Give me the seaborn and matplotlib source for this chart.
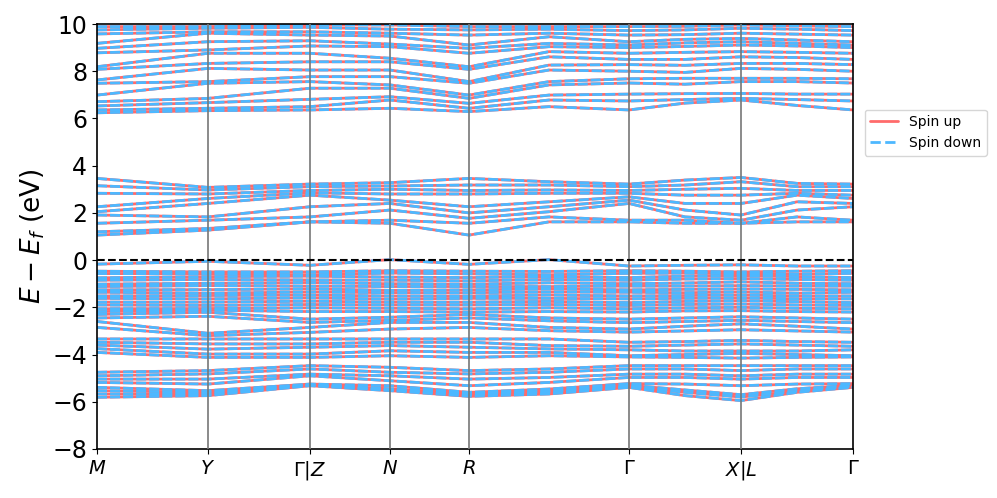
import numpy as np
import pandas as pd
import matplotlib
matplotlib.use("Agg")
import matplotlib.pyplot as plt
import seaborn as sns
from matplotlib.lines import Line2D

# k-path: distance of each sampled k-point along the path
k_path = [0.0, 1.11, 2.13, 2.93, 3.72, 4.52, 5.32, 5.88, 6.44, 7.00, 7.56]
# high-symmetry points
tick_pos = [0.0, 1.11, 2.13, 2.93, 3.72, 5.32, 6.44, 7.56]
tick_labels = [r'$M$', r'$Y$', r'$\Gamma|Z$', r'$N$', r'$R$', r'$\Gamma$', r'$X|L$', r'$\Gamma$']

# energies (eV) read at each k_path point
cond_high = [
    [9.89, 9.89, 9.96, 9.96, 9.89, 9.89, 9.89, 9.90, 9.96, 9.92, 9.89],
    [9.75, 9.82, 9.86, 9.78, 9.75, 9.78, 9.72, 9.75, 9.82, 9.78, 9.72],
    [9.58, 9.67, 9.67, 9.61, 9.53, 9.61, 9.53, 9.55, 9.61, 9.57, 9.53],
    [9.18, 9.61, 9.53, 9.49, 9.11, 9.46, 9.25, 9.35, 9.39, 9.32, 9.25],
    [8.97, 9.25, 9.29, 9.15, 8.97, 9.18, 9.11, 9.20, 9.25, 9.18, 9.11],
    [8.78, 8.90, 9.07, 9.04, 8.76, 9.04, 9.00, 9.05, 9.11, 9.07, 9.00],
    [8.19, 8.76, 8.76, 8.55, 8.19, 8.83, 8.76, 8.80, 8.83, 8.80, 8.76],
    [8.08, 8.33, 8.40, 8.40, 8.08, 8.61, 8.50, 8.50, 8.61, 8.58, 8.50],
    [7.63, 8.12, 8.05, 8.05, 7.56, 8.26, 8.28, 8.25, 8.33, 8.33, 8.28],
    [7.49, 7.56, 7.77, 7.77, 7.49, 8.05, 8.00, 7.95, 8.12, 8.08, 8.00],
    [6.99, 7.49, 7.56, 7.42, 6.99, 7.56, 7.68, 7.70, 7.70, 7.70, 7.68],
    [6.71, 6.85, 7.28, 7.28, 6.85, 7.42, 7.50, 7.45, 7.56, 7.56, 7.50],
    [6.53, 6.67, 6.81, 6.92, 6.64, 6.99, 7.03, 7.05, 7.06, 7.03, 7.03],
    [6.36, 6.43, 6.50, 6.78, 6.43, 6.78, 6.74, 6.80, 6.85, 6.80, 6.74],
    [6.24, 6.33, 6.36, 6.43, 6.29, 6.50, 6.36, 6.65, 6.78, 6.55, 6.36],
]

cond_low = [
    [3.46, 3.08, 3.22, 3.28, 3.46, 3.32, 3.22, 3.39, 3.50, 3.25, 3.22],
    [3.15, 2.97, 3.11, 3.14, 3.18, 3.18, 3.11, 3.18, 3.32, 3.11, 3.11],
    [2.83, 2.80, 2.95, 3.00, 2.95, 2.97, 2.95, 3.00, 3.04, 2.95, 2.95],
    [2.26, 2.61, 2.85, 2.80, 2.80, 2.83, 2.83, 2.75, 2.75, 2.83, 2.75],
    [2.05, 2.40, 2.75, 2.54, 2.26, 2.47, 2.68, 2.40, 2.40, 2.75, 2.61],
    [1.91, 1.83, 2.26, 2.40, 2.00, 2.26, 2.54, 2.12, 1.91, 2.47, 2.40],
    [1.56, 1.69, 1.83, 2.12, 1.77, 2.05, 2.40, 1.83, 1.69, 2.12, 2.26],
    [1.20, 1.34, 1.62, 1.69, 1.56, 1.83, 1.69, 1.69, 1.56, 1.83, 1.69],
    [1.06, 1.27, 1.62, 1.56, 1.06, 1.62, 1.62, 1.56, 1.56, 1.62, 1.62],
]

val_top = [
    [-0.17, -0.05, -0.22, 0.02, -0.18, 0.02, -0.25, -0.22, -0.20, -0.25, -0.25],
    [-0.47, -0.50, -0.50, -0.45, -0.47, -0.48, -0.45, -0.47, -0.50, -0.47, -0.45],
    [-0.57, -0.58, -0.62, -0.55, -0.58, -0.62, -0.56, -0.55, -0.58, -0.60, -0.56],
    [-0.75, -0.70, -0.68, -0.72, -0.74, -0.70, -0.74, -0.68, -0.66, -0.70, -0.74],
    [-0.85, -0.82, -0.84, -0.85, -0.88, -0.82, -0.85, -0.80, -0.78, -0.82, -0.85],
    [-1.02, -0.98, -0.95, -1.00, -1.02, -0.96, -1.00, -0.97, -0.92, -0.98, -1.00],
    [-1.12, -1.08, -1.10, -1.12, -1.12, -1.12, -1.10, -1.10, -1.08, -1.10, -1.10],
    [-1.26, -1.25, -1.22, -1.28, -1.26, -1.22, -1.26, -1.24, -1.22, -1.24, -1.26],
    [-1.36, -1.40, -1.35, -1.38, -1.38, -1.35, -1.36, -1.38, -1.35, -1.40, -1.36],
    [-1.52, -1.50, -1.48, -1.52, -1.52, -1.48, -1.52, -1.50, -1.48, -1.52, -1.52],
    [-1.62, -1.64, -1.60, -1.65, -1.62, -1.62, -1.64, -1.62, -1.60, -1.64, -1.64],
    [-1.78, -1.78, -1.74, -1.78, -1.78, -1.75, -1.80, -1.75, -1.72, -1.76, -1.80],
    [-1.90, -1.92, -1.88, -1.90, -1.90, -1.88, -1.92, -1.88, -1.86, -1.90, -1.92],
    [-2.06, -2.05, -2.02, -2.04, -2.06, -2.02, -2.06, -2.02, -2.00, -2.04, -2.06],
    [-2.18, -2.12, -2.18, -2.18, -2.20, -2.18, -2.20, -2.15, -2.14, -2.18, -2.20],
]

val_mid = [
    [-2.30, -2.21, -2.50, -2.42, -2.30, -2.45, -2.50, -2.45, -2.40, -2.45, -2.50],
    [-2.45, -2.38, -2.64, -2.55, -2.45, -2.57, -2.65, -2.60, -2.55, -2.60, -2.65],
    [-2.60, -3.10, -2.85, -2.64, -2.64, -2.85, -2.92, -2.80, -2.70, -2.80, -2.92],
    [-2.85, -3.20, -3.06, -2.92, -2.85, -2.99, -3.05, -3.00, -2.95, -3.00, -3.05],
    [-3.34, -3.34, -3.34, -3.34, -3.34, -3.34, -3.48, -3.45, -3.40, -3.45, -3.48],
    [-3.48, -3.55, -3.55, -3.48, -3.48, -3.62, -3.65, -3.60, -3.55, -3.60, -3.65],
    [-3.60, -3.77, -3.69, -3.62, -3.69, -3.76, -3.80, -3.85, -3.85, -3.85, -3.80],
    [-3.75, -3.98, -3.98, -3.84, -3.91, -3.91, -4.05, -4.00, -3.95, -4.00, -4.05],
    [-3.91, -4.12, -4.12, -4.05, -4.12, -4.05, -4.10, -4.12, -4.15, -4.12, -4.10],
]

val_low = [
    [-4.75, -4.68, -4.47, -4.54, -4.68, -4.61, -4.47, -4.47, -4.47, -4.47, -4.47],
    [-4.90, -4.82, -4.61, -4.75, -4.82, -4.75, -4.61, -4.61, -4.68, -4.61, -4.61],
    [-5.04, -5.04, -4.83, -4.90, -5.04, -4.97, -4.83, -4.83, -4.90, -4.83, -4.83],
    [-5.18, -5.25, -4.90, -5.11, -5.32, -5.18, -4.97, -4.97, -5.04, -4.97, -4.97],
    [-5.39, -5.53, -5.25, -5.32, -5.60, -5.46, -5.23, -5.25, -5.32, -5.25, -5.23],
    [-5.53, -5.60, -5.28, -5.45, -5.65, -5.55, -5.30, -5.50, -5.70, -5.45, -5.30],
    [-5.67, -5.68, -5.30, -5.50, -5.70, -5.60, -5.35, -5.60, -5.80, -5.55, -5.35],
    [-5.81, -5.74, -5.32, -5.53, -5.77, -5.67, -5.39, -5.74, -5.95, -5.60, -5.39],
]

# spin up and spin down bands coincide in the picture
spin_up = cond_high + cond_low + val_top + val_mid + val_low
spin_down = spin_up

rows = []
for spin, bands in [('up', spin_up), ('down', spin_down)]:
    for i, band in enumerate(bands):
        for k, e in zip(k_path, band):
            rows.append({'k': k, 'E': e, 'band': i, 'spin': spin})
df = pd.DataFrame(rows)

sns.set_style("ticks")
plt.rcParams.update({'xtick.color': 'black', 'ytick.color': 'black',
                     'axes.labelcolor': 'black', 'text.color': 'black'})
fig = plt.figure(figsize=(9.97, 4.98), dpi=100)
ax = fig.add_axes([0.0973, 0.0984, 0.7583, 0.8534])

up_color = '#ff6b6b'
down_color = '#4db8ff'
down_dash = (0, (3.6, 1.1))

sns.lineplot(data=df[df.spin == 'up'], x='k', y='E', units='band', estimator=None,
             sort=False, color=up_color, lw=2.0, ax=ax, legend=False)
sns.lineplot(data=df[df.spin == 'down'], x='k', y='E', units='band', estimator=None,
             sort=False, color=down_color, lw=2.0, linestyle=down_dash, ax=ax, legend=False)

for x in tick_pos[1:-1]:
    ax.axvline(x, color='#777777', lw=1.2, zorder=5)
ax.axhline(0, color='black', lw=1.5, linestyle='--', zorder=6)

ax.set_xlim(tick_pos[0], tick_pos[-1])
ax.set_ylim(-8, 10)
ax.set_xticks(tick_pos)
ax.set_xticklabels(tick_labels, fontsize=14)
ax.set_yticks(range(-8, 11, 2))
ax.tick_params(axis='y', labelsize=17)
ax.set_xlabel('')
ax.set_ylabel(r'$E - E_f$ (eV)', fontsize=19)
for s in ax.spines.values():
    s.set_color('black')
    s.set_linewidth(1.2)

handles = [Line2D([], [], color=up_color, lw=2, label='Spin up'),
           Line2D([], [], color=down_color, lw=2, linestyle='--', label='Spin down')]
ax.legend(handles=handles, loc='upper left', bbox_to_anchor=(1.006, 0.815), fontsize=10)

fig.savefig('out.png', dpi=100)
